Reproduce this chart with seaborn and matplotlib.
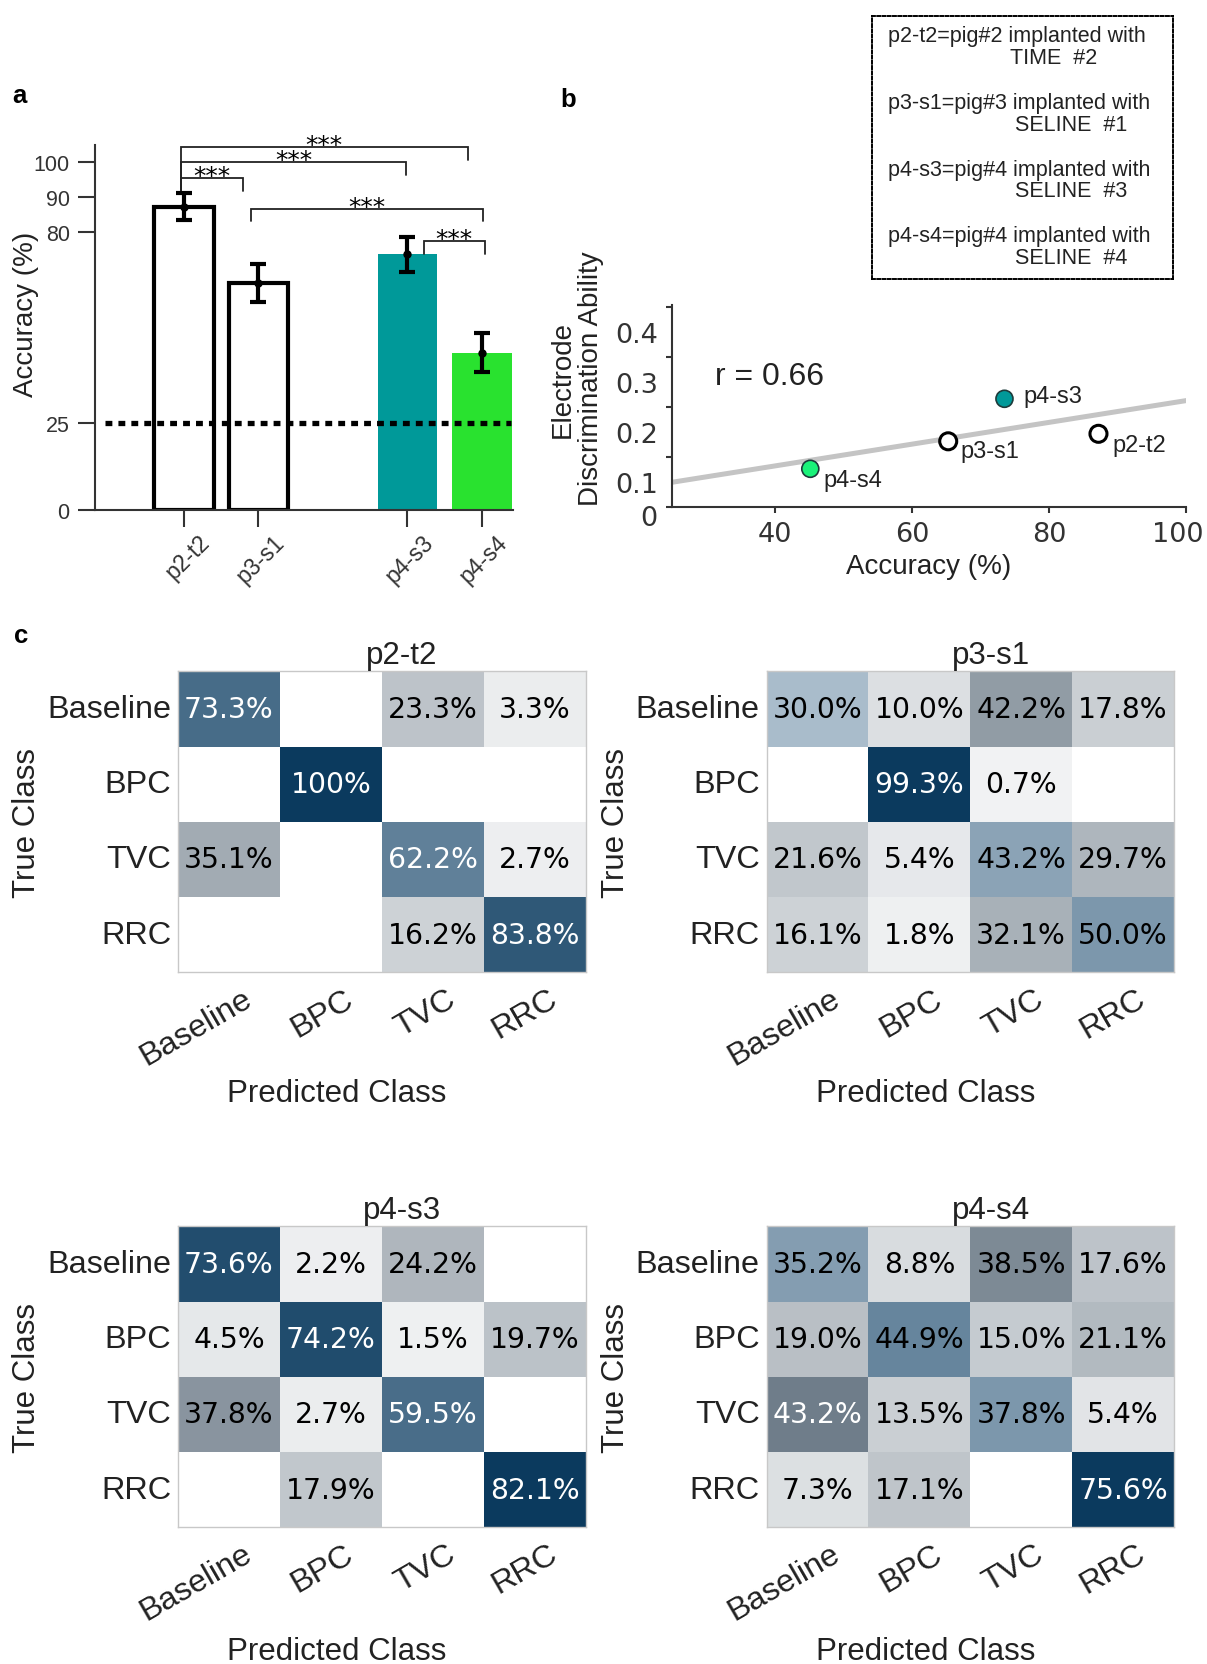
import numpy as np
import seaborn as sns
import matplotlib
matplotlib.use("Agg")
from matplotlib import pyplot as plt
from matplotlib.colors import LinearSegmentedColormap
from matplotlib.transforms import ScaledTranslation

# ---- data -------------------------------------------------------------
samples = ['p2-t2', 'p3-s1', 'p4-s3', 'p4-s4']
acc_mean = [87.2, 65.3, 73.5, 45.2]
acc_err = [3.9, 5.5, 5.1, 5.7]
chance = 25
eda = [0.147, 0.132, 0.217, 0.077]
r_value = 0.66

sig_pairs = [('p2-t2', 'p3-s1'), ('p2-t2', 'p4-s3'), ('p2-t2', 'p4-s4'),
             ('p3-s1', 'p4-s4'), ('p4-s3', 'p4-s4')]
sig_levels = [95.4, 100.1, 104.4, 86.6, 77.3]
sig_label = '***'

classes = ['Baseline', 'BPC', 'TVC', 'RRC']
cm_p2t2 = [[73.3, 0, 23.3, 3.3],
           [0, 100, 0, 0],
           [35.1, 0, 62.2, 2.7],
           [0, 0, 16.2, 83.8]]
cm_p3s1 = [[30.0, 10.0, 42.2, 17.8],
           [0, 99.3, 0.7, 0],
           [21.6, 5.4, 43.2, 29.7],
           [16.1, 1.8, 32.1, 50.0]]
cm_p4s3 = [[73.6, 2.2, 24.2, 0],
           [4.5, 74.2, 1.5, 19.7],
           [37.8, 2.7, 59.5, 0],
           [0, 17.9, 0, 82.1]]
cm_p4s4 = [[35.2, 8.8, 38.5, 17.6],
           [19.0, 44.9, 15.0, 21.1],
           [43.2, 13.5, 37.8, 5.4],
           [7.3, 17.1, 0, 75.6]]

legend_lines = [('p2-t2=pig#2 implanted with', 'TIME  #2'),
                ('p3-s1=pig#3 implanted with', 'SELINE  #1'),
                ('p4-s3=pig#4 implanted with', 'SELINE  #3'),
                ('p4-s4=pig#4 implanted with', 'SELINE  #4')]

# ---- style ------------------------------------------------------------
sns.set_style('ticks')
plt.rcParams['font.family'] = ['Liberation Sans', 'DejaVu Sans']
plt.rcParams['axes.edgecolor'] = '#333333'
plt.rcParams['text.color'] = '#222222'
plt.rcParams['axes.labelcolor'] = '#222222'
plt.rcParams['xtick.color'] = '#333333'
plt.rcParams['ytick.color'] = '#333333'

W, H = 1207, 1665
fig = plt.figure(figsize=(W / 100, H / 100), dpi=100)


def px_axes(left, top, right, bottom):
    return fig.add_axes([left / W, 1 - bottom / H, (right - left) / W, (bottom - top) / H])


def shift_labels(labels, dx=0, dy=0):
    for lab in labels:
        lab.set_transform(lab.get_transform() + ScaledTranslation(dx / 100, dy / 100, fig.dpi_scale_trans))


# ---- panel a: accuracy bars ----------------------------------------------
ax_a = px_axes(94.7, 146, 513, 510.6)
order = ['p2-t2', 'p3-s1', '', 'p4-s3', 'p4-s4']
bar_colors = {'p2-t2': 'white', 'p3-s1': 'white', 'p4-s3': '#009999', 'p4-s4': '#29e22f'}
sns.barplot(x=samples, y=acc_mean, order=order, hue=samples, palette=bar_colors,
            width=0.8, errorbar=None, legend=False, saturation=1, ax=ax_a)
for patch in ax_a.patches:
    fc = patch.get_facecolor()
    if fc[0] > 0.99 and fc[1] > 0.99 and fc[2] > 0.99:
        patch.set_edgecolor('black')
        patch.set_linewidth(3)
    else:
        patch.set_linewidth(0)

pos = [order.index(s) for s in samples]
ax_a.errorbar(pos, acc_mean, yerr=acc_err, fmt='o', color='black', ms=5,
              elinewidth=3, capsize=6, capthick=3, zorder=4)
ax_a.hlines(chance, -1.06, 4.39, colors='black', linewidth=3.8,
            linestyles=(0, (1.3, 1.15)), zorder=5)

# significance brackets
drop = 3.6
insets = [(-0.04, -0.21), (-0.04, -0.02), (-0.04, -0.19), (-0.1, 0.02), (0.22, 0.04)]
for (s1, s2), lvl, (d1, d2) in zip(sig_pairs, sig_levels, insets):
    x0 = order.index(s1) + d1
    x1 = order.index(s2) + d2
    left_bottom = min(l for (a, _), l in zip(sig_pairs, sig_levels) if a == s1) - drop
    ax_a.plot([x0, x0, x1, x1], [left_bottom, lvl, lvl, lvl - drop],
              color='#222222', lw=1.3, solid_joinstyle='miter')
    ax_a.text((x0 + x1) / 2, lvl + 0.6, sig_label, ha='center', va='center',
              fontsize=18, family='DejaVu Sans', color='black')

ax_a.set_xlim(-1.2, 4.42)
ax_a.set_ylim(0, 105)
ax_a.set_yticks([0, 25, 80, 90, 100])
ax_a.set_xticks(pos)
ax_a.set_xticklabels(samples, rotation=45, ha='right', rotation_mode='anchor')
ax_a.tick_params(axis='y', length=12, width=1.5, pad=6, labelsize=15.5)
ax_a.tick_params(axis='x', length=12, width=1.5, pad=3, labelsize=16.5)
shift_labels(ax_a.get_xticklabels(), dx=14)
sns.despine(ax=ax_a)
for sp in ['left', 'bottom']:
    ax_a.spines[sp].set_linewidth(1.5)
ax_a.set_xlabel('')
ax_a.set_ylabel('Accuracy (%)', fontsize=20, va='center')
ax_a.yaxis.set_label_coords(-0.165, 0.539)

# ---- panel b: correlation -----------------------------------------------
ax_b = px_axes(671.7, 305.8, 1186.3, 508.3)
ax_b.set_xlim(25, 100)
ax_b.set_ylim(0, 0.405)
sns.regplot(x=acc_mean, y=eda, ci=None, truncate=False, scatter=False,
            color='#c4c4c4', line_kws=dict(lw=3.6), ax=ax_b)
scatter_colors = {'p2-t2': 'white', 'p3-s1': 'white', 'p4-s3': '#009999', 'p4-s4': '#1af279'}
sns.scatterplot(x=acc_mean, y=eda, hue=samples, palette=scatter_colors, s=150,
                edgecolor='black', legend=False, ax=ax_b, zorder=3)
ax_b.collections[-1].set_linewidths([2.2, 2.2, 1.2, 1.2])
ax_b.collections[-1].set_edgecolors(['black', 'black', '#1d3b3b', '#1d3b3b'])

label_offsets = {'p2-t2': (9.7, -7.9), 'p3-s1': (9.1, -6.8), 'p4-s3': (13.7, 2), 'p4-s4': (9.6, -8.4)}
for s, x, y in zip(samples, acc_mean, eda):
    ax_b.annotate(s, (x, y), xytext=label_offsets[s], textcoords='offset points',
                  ha='left', va='center', fontsize=17)
ax_b.text(31.3, 0.263, 'r = %.2f' % r_value, fontsize=23, va='center')

ax_b.set_xlim(25, 100)
ax_b.set_ylim(0, 0.405)
ax_b.set_xticks([40, 60, 80, 100])
ax_b.set_yticks([0, 0.1, 0.2, 0.3, 0.4])
ax_b.set_yticklabels(['0', '0.1', '0.2', '0.3', '0.4'])
ax_b.tick_params(axis='both', length=4, width=1.5, labelsize=19.5, labelfontfamily='DejaVu Sans')
ax_b.tick_params(axis='x', pad=6)
ax_b.tick_params(axis='y', pad=6)
for lab, dy in zip(ax_b.get_yticklabels(), [-8, -25, -25, -25, -25]):
    shift_labels([lab], dy=dy)
shift_labels(ax_b.get_xticklabels()[-1:], dx=-9)
sns.despine(ax=ax_b)
for sp in ['left', 'bottom']:
    ax_b.spines[sp].set_linewidth(1.5)
ax_b.set_xlabel('Accuracy (%)', fontsize=20)
ax_b.set_ylabel('Electrode\nDiscrimination Ability', fontsize=20, va='center', linespacing=1.1)
ax_b.yaxis.set_label_coords(-0.184, 0.638)

# legend box
ax_l = px_axes(871.7, 16.7, 1173.3, 280)
ax_l.set_xticks([])
ax_l.set_yticks([])
for sp in ax_l.spines.values():
    sp.set_linestyle((0, (1.5, 1.2)))
    sp.set_linewidth(1.4)
    sp.set_edgecolor('black')
for k, (first, second) in enumerate(legend_lines):
    y0 = 0.924 - k * 0.2532
    ax_l.text(0.055, y0, first, fontsize=15.5, va='center', ha='left')
    ax_l.text(0.459 if k == 0 else 0.475, y0 - 0.083, second, fontsize=15.5, va='center', ha='left')

# ---- panel c: confusion matrices ------------------------------------------
diag_cmap = LinearSegmentedColormap.from_list('diag', ['#edf4fa', '#0b3a5e'])
off_cmap = LinearSegmentedColormap.from_list('off', ['#f2f3f4', '#0d253a'])


def fmt(v):
    return '%d%%' % v if v == 100 else '%.1f%%' % v


def confusion(ax, mat, title, label_y):
    mat = np.array(mat, dtype=float)
    n = len(classes)
    vmax = mat.max()
    diag = np.eye(n, dtype=bool)
    sns.heatmap(mat, mask=~diag | (mat == 0), cmap=diag_cmap, vmin=0, vmax=vmax,
                cbar=False, ax=ax, xticklabels=classes, yticklabels=classes)
    sns.heatmap(mat, mask=diag | (mat == 0), cmap=off_cmap, vmin=0, vmax=vmax,
                cbar=False, ax=ax, xticklabels=classes, yticklabels=classes)
    for i in range(n):
        for j in range(n):
            v = mat[i, j]
            if v == 0:
                continue
            cmap = diag_cmap if i == j else off_cmap
            r, g, b, _ = cmap(v / vmax)
            lum = 255 * (0.299 * r + 0.587 * g + 0.114 * b)
            ax.text(j + 0.5, i + 0.5, fmt(v), ha='center', va='center', fontsize=20.3,
                    family='DejaVu Sans', color='white' if lum < 125 else 'black')
    for sp in ax.spines.values():
        sp.set_visible(True)
        sp.set_color('#c8c8c8')
        sp.set_linewidth(1)
    ax.tick_params(axis='both', length=0, labelsize=23.3, colors='#222222')
    ax.tick_params(axis='y', pad=5)
    ax.tick_params(axis='x', pad=8)
    plt.setp(ax.get_yticklabels(), rotation=0)
    plt.setp(ax.get_xticklabels(), rotation=30, ha='right', va='top', rotation_mode='anchor')
    shift_labels(ax.get_xticklabels(), dx=13)
    ax.set_title(title, fontsize=22.5, x=0.55, pad=6)
    ax.set_xlabel('Predicted Class', fontsize=22.5, va='center')
    ax.xaxis.set_label_coords(0.39, label_y)
    ax.set_ylabel('True Class', fontsize=22.5, va='center')
    ax.yaxis.set_label_coords(-0.37, 0.5)


confusion(px_axes(178, 672.3, 585.5, 973.3), cm_p2t2, 'p2-t2', -0.40)
confusion(px_axes(766.5, 672.3, 1174, 973.3), cm_p3s1, 'p3-s1', -0.40)
confusion(px_axes(178, 1227.3, 585.5, 1528.3), cm_p4s3, 'p4-s3', -0.41)
confusion(px_axes(766.5, 1227.3, 1174, 1528.3), cm_p4s4, 'p4-s4', -0.41)

# panel letters
for letter, x, y in [('a', 19.8, 103.3), ('b', 568.5, 107.2), ('c', 21, 643.3)]:
    fig.text(x / W, 1 - y / H, letter, fontsize=18.5, weight='bold', ha='center',
             va='baseline', color='black')

fig.savefig('out.png', dpi=100)
